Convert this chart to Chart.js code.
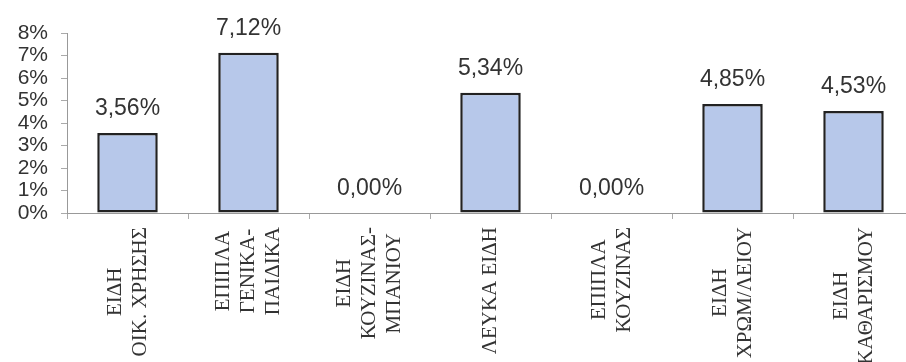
<!DOCTYPE html>
<html>
<head>
<meta charset="utf-8">
<script src="https://cdn.jsdelivr.net/npm/chart.js@4.4.0/dist/chart.umd.min.js"></script>
<style>
  html, body { margin: 0; padding: 0; background: #fff; overflow: hidden; }
  #wrap { width: 906px; height: 362px; overflow: hidden; }
  #chart { display: block; }
</style>
</head>
<body>
<div id="wrap"><canvas id="chart" width="914" height="362"></canvas></div>
<script>
// categories (one array entry per line of the label)
const categories = [
  ['ΕΙΔΗ', 'ΟΙΚ. ΧΡΗΣΗΣ'],
  ['ΕΠΙΠΛΑ', 'ΓΕΝΙΚΑ-', 'ΠΑΙΔΙΚΑ'],
  ['ΕΙΔΗ', 'ΚΟΥΖΙΝΑΣ-', 'ΜΠΑΝΙΟΥ'],
  ['ΛΕΥΚΑ ΕΙΔΗ'],
  ['ΕΠΙΠΛΑ', 'ΚΟΥΖΙΝΑΣ'],
  ['ΕΙΔΗ', 'ΧΡΩΜ/ΛΕΙΟΥ'],
  ['ΕΙΔΗ', 'ΚΑΘΑΡΙΣΜΟΥ']
];
const shares = [3.56, 7.12, 0.00, 5.34, 0.00, 4.85, 4.53];
const yTicks = [0, 1, 2, 3, 4, 5, 6, 7, 8];

const sansFont = '"Liberation Sans", Arial, sans-serif';
const serifFont = '"Liberation Serif", "Times New Roman", serif';

// valores por cima das barras
const valueLabels = {
  id: 'valueLabels',
  afterDatasetsDraw(chart) {
    const ctx = chart.ctx;
    const meta = chart.getDatasetMeta(0);
    ctx.save();
    ctx.font = '23px ' + sansFont;
    ctx.fillStyle = '#333';
    ctx.textAlign = 'center';
    ctx.textBaseline = 'alphabetic';
    meta.data.forEach((bar, i) => {
      ctx.fillText(shares[i].toFixed(2).replace('.', ',') + '%', bar.x, bar.y - 18);
    });
    ctx.restore();
  }
};

// rótulos do eixo x, rodados e centrados linha a linha
const categoryLabels = {
  id: 'categoryLabels',
  afterDraw(chart) {
    const ctx = chart.ctx;
    const xScale = chart.scales.x;
    const top = chart.chartArea.bottom + 14;
    ctx.save();
    ctx.font = '21px ' + serifFont;
    ctx.fillStyle = '#333';
    ctx.textAlign = 'center';
    ctx.textBaseline = 'middle';
    categories.forEach((lines, i) => {
      const x = xScale.getPixelForTick(i);
      const longest = Math.max(...lines.map(l => ctx.measureText(l).width));
      ctx.save();
      ctx.translate(x, top);
      ctx.rotate(-Math.PI / 2);
      lines.forEach((line, j) => {
        ctx.fillText(line, -longest / 2, (j - (lines.length - 1) / 2) * 25);
      });
      ctx.restore();
    });
    ctx.restore();
  }
};

new Chart(document.getElementById('chart'), {
  type: 'bar',
  data: {
    labels: categories,
    datasets: [{
      data: shares,
      backgroundColor: '#b7c8ea',
      borderColor: '#222',
      borderWidth: 2.5,
      borderSkipped: false,
      barPercentage: 0.5,
      categoryPercentage: 1
    }]
  },
  options: {
    responsive: false,
    animation: false,
    layout: { padding: { top: 33, left: 0, right: 0, bottom: 143 } },
    plugins: { legend: { display: false }, tooltip: { enabled: false } },
    scales: {
      x: {
        offset: true,
        grid: { drawOnChartArea: false, drawTicks: true, tickLength: 6, color: '#aaa', offset: true },
        border: { display: true, color: '#999', width: 1 },
        ticks: { display: false }
      },
      y: {
        min: 0,
        max: 8,
        afterBuildTicks: scale => { scale.ticks = yTicks.map(v => ({ value: v })); },
        afterFit: scale => { scale.width = 67; },
        grid: { drawOnChartArea: false, tickLength: 6, color: '#aaa' },
        border: { display: true, color: '#999', width: 1 },
        ticks: {
          autoSkip: false,
          padding: 13,
          color: '#333',
          font: { family: sansFont, size: 21 },
          callback: v => v + '%'
        }
      }
    }
  },
  plugins: [valueLabels, categoryLabels]
});
</script>
</body>
</html>
